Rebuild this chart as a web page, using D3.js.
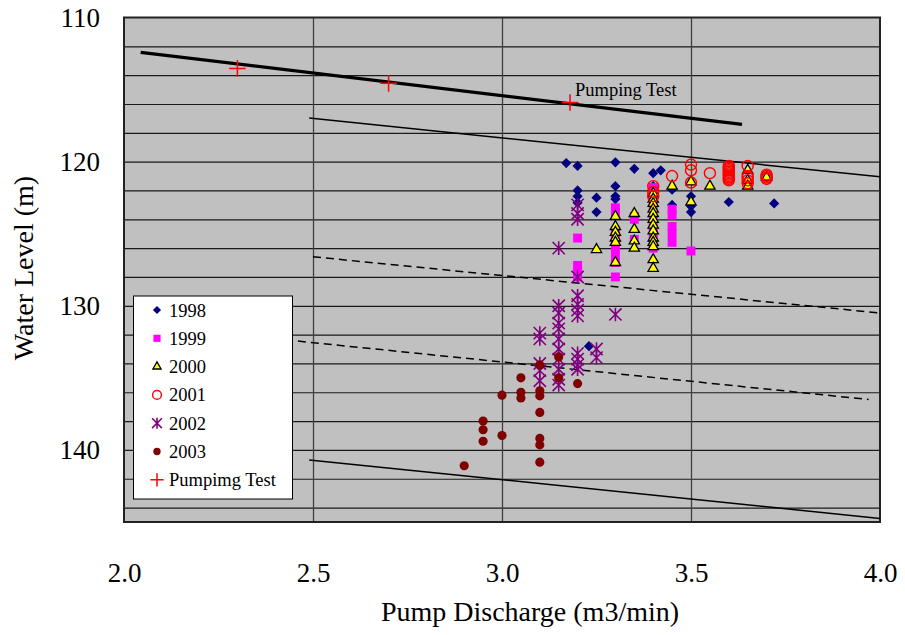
<!DOCTYPE html>
<head>
<meta charset="utf-8">
<script src="https://d3js.org/d3.v7.min.js"></script>
<style>
  body { margin: 0; background: #fff; }
  svg text { font-family: "Liberation Serif", "Times New Roman", Times, "Tinos", "DejaVu Serif", "Noto Serif", serif; fill: #000; }
</style>
</head>
<body>
<script>
// ---------- data (pump discharge m3/min, water level m) ----------
const xTicks = [2.0, 2.5, 3.0, 3.5, 4.0]
const yTicks = [110, 120, 130, 140]

const d1998 = [[3.17,120.1],[3.2,120.3],[3.2,122.0],[3.2,122.4],[3.2,122.85],[3.23,132.8],
  [3.25,122.5],[3.25,123.5],[3.3,120.05],[3.3,121.7],[3.3,122.4],[3.3,122.6],[3.35,120.5],
  [3.4,120.8],[3.42,120.6],[3.4,121.7],[3.4,122.5],[3.45,121.95],[3.45,123.0],
  [3.5,122.4],[3.5,123.1],[3.5,123.5],[3.6,122.8],[3.72,122.9]]
const d1999 = [[3.2,125.3],[3.2,127.2],[3.2,127.6],[3.2,128.0],
  [3.3,123.2],[3.3,123.5],[3.3,124.8],[3.3,125.2],[3.3,125.6],[3.3,126.0],[3.3,126.5],[3.3,127.0],[3.3,128.0],
  [3.35,123.8],[3.35,124.0],[3.35,125.4],
  [3.4,121.8],[3.4,122.5],[3.4,123.2],[3.4,124.0],[3.4,124.6],[3.4,125.3],[3.4,126.0],
  [3.45,123.3],[3.45,123.7],[3.45,124.5],[3.45,125.0],[3.45,125.6],[3.5,126.2]]
const d2000 = [[3.25,126.1],
  [3.3,123.8],[3.3,124.5],[3.3,124.9],[3.3,125.3],[3.3,125.6],[3.3,127.0],
  [3.35,123.6],[3.35,124.7],[3.35,125.5],[3.35,126.0],
  [3.4,122.2],[3.4,122.6],[3.4,122.9],[3.4,123.3],[3.4,123.6],[3.4,124.0],[3.4,124.4],
  [3.4,124.8],[3.4,125.3],[3.4,125.6],[3.4,125.9],[3.4,126.8],[3.4,127.4],
  [3.45,121.7],[3.5,121.4],[3.5,122.8],[3.55,121.7],[3.65,120.6],[3.65,121.3],[3.65,121.7],[3.7,121.1]]
const d2001 = [[3.4,121.7],[3.4,122.1],[3.4,122.4],[3.45,121.0],
  [3.5,120.2],[3.5,120.6],[3.5,121.45],[3.55,120.8],
  [3.6,120.3],[3.6,120.4],[3.6,120.5],[3.6,120.6],[3.6,120.7],[3.6,120.8],[3.6,120.9],
  [3.6,121.0],[3.6,121.1],[3.6,121.2],[3.6,121.3],
  [3.65,120.3],[3.65,121.0],[3.65,121.1],[3.65,121.3],[3.65,121.5],
  [3.7,120.9],[3.7,121.0],[3.7,121.1],[3.7,121.2]]
const d2002 = [[3.1,131.9],[3.1,132.3],[3.1,134.0],[3.1,134.5],[3.1,135.2],
  [3.15,126.0],[3.15,130.0],[3.15,130.5],[3.15,131.2],[3.15,131.6],[3.15,132.3],[3.15,133.0],
  [3.15,133.7],[3.15,134.4],[3.15,135.1],[3.15,135.5],
  [3.2,123.0],[3.2,123.6],[3.2,124.0],[3.2,128.0],[3.2,129.3],[3.2,129.9],[3.2,130.3],[3.2,130.7],
  [3.2,133.3],[3.2,133.7],[3.2,134.1],[3.2,134.4],[3.25,133.0],[3.25,133.6],[3.3,130.6]]
const d2003 = [[2.9,141.1],[2.95,138.0],[2.95,138.6],[2.95,139.4],[3.0,136.2],[3.0,139.0],
  [3.05,135.0],[3.05,136.0],[3.05,136.4],[3.1,134.1],[3.1,135.9],[3.1,136.25],[3.1,137.4],
  [3.1,139.2],[3.1,139.65],[3.1,140.85],[3.15,133.55],[3.15,135.0],[3.2,135.4]]
const pumpTest = [[2.3,113.53],[2.7,114.57],[3.18,115.9]]

// straight reference lines
const fitLine = [[2.044,112.42],[3.635,117.42]]
const upperLine = [[2.49,116.98],[4.0,121.05]]
const dashUpper = [[2.5,126.6],[4.0,130.5]]
const dashLower = [[2.46,132.45],[3.97,136.5]]
const lowerLine = [[2.49,140.7],[4.0,144.75]]

const legendNames = ["1998", "1999", "2000", "2001", "2002", "2003", "Pumpimg Test"]

// ---------- layout ----------
const width = 905, height = 635
const plotL = 124, plotR = 880, plotT = 17.5, plotB = 522

const svg = d3.select("body").append("svg")
  .attr("width", width).attr("height", height)

const x = d3.scaleLinear().domain([2, 4]).range([plotL, plotR])
const y = d3.scaleLinear().domain([110, 145]).range([plotT, plotB])

svg.append("rect")
  .attr("x", plotL).attr("y", plotT)
  .attr("width", plotR - plotL).attr("height", plotB - plotT)
  .attr("fill", "#c0c0c0")

// gridlines
const hGrid = svg.append("g").attr("transform", `translate(${plotL},0)`)
  .call(d3.axisLeft(y).tickValues(d3.range(112, 145, 2)).tickSize(-(plotR - plotL)).tickFormat(""))
hGrid.select(".domain").remove()
hGrid.selectAll("line").attr("stroke", "#1a1a1a").attr("stroke-width", 1.2)

const vGrid = svg.append("g").attr("transform", `translate(0,${plotB})`)
  .call(d3.axisBottom(x).tickValues([2.5, 3.0, 3.5]).tickSize(-(plotB - plotT)).tickFormat(""))
vGrid.select(".domain").remove()
vGrid.selectAll("line").attr("stroke", "#404040").attr("stroke-width", 1.3)

// plot frame
svg.append("rect")
  .attr("x", plotL).attr("y", plotT)
  .attr("width", plotR - plotL).attr("height", plotB - plotT)
  .attr("fill", "none").attr("stroke", "#222").attr("stroke-width", 2)

// axis labels
const yAxis = svg.append("g").attr("transform", `translate(${plotL},0)`)
  .call(d3.axisLeft(y).tickValues(yTicks).tickSize(0).tickPadding(24))
yAxis.select(".domain").remove()
yAxis.attr("font-family", null)
yAxis.selectAll("text").attr("font-size", 27).attr("fill", "#000")

const xAxis = svg.append("g").attr("transform", `translate(0,${plotB})`)
  .call(d3.axisBottom(x).tickValues(xTicks).tickFormat(d3.format(".1f")).tickSize(0).tickPadding(41))
xAxis.select(".domain").remove()
xAxis.attr("font-family", null)
xAxis.selectAll("text").attr("font-size", 27).attr("fill", "#000")

svg.append("text")
  .attr("x", 530).attr("y", 621)
  .attr("text-anchor", "middle").attr("font-size", 28)
  .text("Pump Discharge (m3/min)")

svg.append("text")
  .attr("transform", "translate(33,268) rotate(-90)")
  .attr("text-anchor", "middle").attr("font-size", 28)
  .text("Water Level (m)")

// reference lines
const line = d3.line().x(d => x(d[0])).y(d => y(d[1]))
const lines = svg.append("g").attr("fill", "none").attr("stroke", "#000")
lines.append("path").attr("d", line(fitLine)).attr("stroke-width", 3.2)
lines.append("path").attr("d", line(upperLine)).attr("stroke-width", 1.5)
lines.append("path").attr("d", line(lowerLine)).attr("stroke-width", 1.5)
lines.append("path").attr("d", line(dashUpper)).attr("stroke-width", 1.5).attr("stroke-dasharray", "8,5")
lines.append("path").attr("d", line(dashLower)).attr("stroke-width", 1.5).attr("stroke-dasharray", "8,5")

// marker shapes
const asterisk = s => `M0,${-s}V${s}M${-s * 0.9},${-s * 0.9}L${s * 0.9},${s * 0.9}M${-s * 0.9},${s * 0.9}L${s * 0.9},${-s * 0.9}`
const cross = s => `M${-s},0H${s}M0,${-s}V${s}`

const styles = [
  { data: d1998, draw: k => d3.symbol(d3.symbolSquare, 52 * k * k)(), rot: 45, fill: "#000080", stroke: "none", sw: 0 },
  { data: d1999, draw: k => d3.symbol(d3.symbolSquare, 80 * k * k)(), rot: 0, fill: "#ff00ff", stroke: "none", sw: 0 },
  { data: d2000, draw: k => d3.symbol(d3.symbolTriangle, 46 * k * k)(), rot: 0, fill: "#ffff00", stroke: "#000", sw: 1.3 },
  { data: d2001, draw: k => d3.symbol(d3.symbolCircle, 95 * k * k)(), rot: 0, fill: "none", stroke: "#ff0000", sw: 1.4 },
  { data: d2002, draw: k => asterisk(6.8 * k), rot: 0, fill: "none", stroke: "#800080", sw: 1.6 },
  { data: d2003, draw: k => d3.symbol(d3.symbolCircle, 66 * k * k)(), rot: 0, fill: "#800000", stroke: "none", sw: 0 },
  { data: pumpTest, draw: k => cross(8.3 * k), rot: 0, fill: "none", stroke: "#ff0000", sw: 1.5 }
]

const marks = svg.append("g")
styles.forEach(st => {
  marks.append("g").selectAll("path")
    .data(st.data)
    .enter().append("path")
    .attr("d", st.draw(1))
    .attr("transform", d => `translate(${x(d[0])},${y(d[1])}) rotate(${st.rot})`)
    .attr("fill", st.fill)
    .attr("stroke", st.stroke)
    .attr("stroke-width", st.sw)
})

svg.append("text")
  .attr("x", 575).attr("y", 96)
  .attr("font-size", 18.5)
  .text("Pumping Test")

// legend
const legend = svg.append("g")
legend.append("rect")
  .attr("x", 133.5).attr("y", 296)
  .attr("width", 159).attr("height", 203)
  .attr("fill", "#fff").attr("stroke", "#000").attr("stroke-width", 1)

styles.forEach((st, i) => {
  const cy = 310 + i * 28.3
  legend.append("path")
    .attr("d", st.draw(0.8))
    .attr("transform", `translate(157,${cy}) rotate(${st.rot})`)
    .attr("fill", st.fill)
    .attr("stroke", st.stroke)
    .attr("stroke-width", st.sw)
  legend.append("text")
    .attr("x", 169).attr("y", cy + 6.5)
    .attr("font-size", 18.5)
    .text(legendNames[i])
})
</script>
</body>
